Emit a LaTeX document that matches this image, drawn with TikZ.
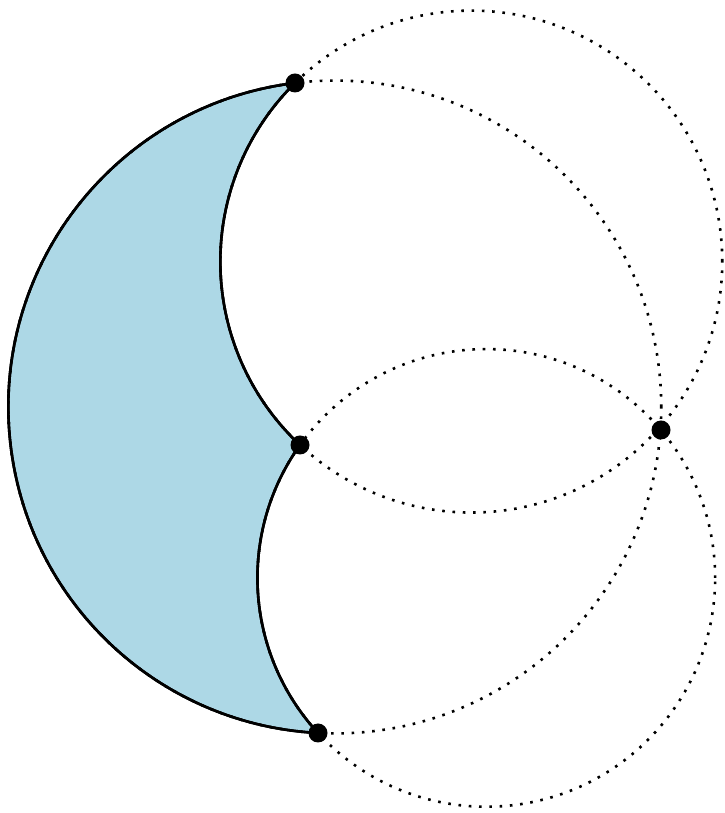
\documentclass[tikz,border=0pt]{standalone}
\usetikzlibrary{calc}
\definecolor{shade}{HTML}{ADD8E6}
\tikzset{
  dotline/.style={line width=2.6pt, dash pattern=on 2.6pt off 7.7pt},
  solidline/.style={line width=2.6pt, line join=round},
  ptdot/.style={circle, fill=black, inner sep=0pt, minimum size=19pt},
}
\begin{document}
\begin{tikzpicture}[x=1pt,y=1pt]
\useasboundingbox (0,0) rectangle (724,813);
% centres
\coordinate (O0) at (334.8,406);
\coordinate (O1) at (471.3,551.4);
\coordinate (O3) at (486.3,235.1);
% intersection points
\coordinate (A) at (295,730);
\coordinate (B) at (300,368);
\coordinate (C) at (318,80);
\coordinate (D) at (661,383);
% shaded region with solid boundary
\filldraw[solidline, fill=shade]
  let \p1=($(A)-(O0)$), \p2=($(C)-(O0)$),
      \n1={atan2(\y1,\x1)}, \n2={atan2(\y2,\x2)+360}, \n3={veclen(\x1,\y1)},
      \p4=($(C)-(O3)$), \p5=($(B)-(O3)$),
      \n4={atan2(\y4,\x4)+360}, \n5={atan2(\y5,\x5)}, \n6={veclen(\x4,\y4)},
      \p7=($(B)-(O1)$), \p8=($(A)-(O1)$),
      \n7={atan2(\y7,\x7)+360}, \n8={atan2(\y8,\x8)}, \n9={veclen(\x7,\y7)}
  in (A) arc[start angle=\n1, end angle=\n2, radius=\n3]
     arc[start angle=\n4, end angle=\n5, radius=\n6]
     arc[start angle=\n7, end angle=\n8, radius=\n9] -- cycle;
% dotted full circles
\draw[dotline] let \p1=($(A)-(O0)$) in (O0) circle[radius={veclen(\x1,\y1)}];
\draw[dotline] let \p1=($(A)-(O1)$) in (O1) circle[radius={veclen(\x1,\y1)}];
\draw[dotline] let \p1=($(B)-(O3)$) in (O3) circle[radius={veclen(\x1,\y1)}];
% redraw solid arcs on top
\draw[solidline]
  let \p1=($(A)-(O0)$), \p2=($(C)-(O0)$),
      \n1={atan2(\y1,\x1)}, \n2={atan2(\y2,\x2)+360}, \n3={veclen(\x1,\y1)},
      \p4=($(C)-(O3)$), \p5=($(B)-(O3)$),
      \n4={atan2(\y4,\x4)+360}, \n5={atan2(\y5,\x5)}, \n6={veclen(\x4,\y4)},
      \p7=($(B)-(O1)$), \p8=($(A)-(O1)$),
      \n7={atan2(\y7,\x7)+360}, \n8={atan2(\y8,\x8)}, \n9={veclen(\x7,\y7)}
  in (A) arc[start angle=\n1, end angle=\n2, radius=\n3]
     arc[start angle=\n4, end angle=\n5, radius=\n6]
     arc[start angle=\n7, end angle=\n8, radius=\n9] -- cycle;
% points
\node[ptdot] (pA) at (A) {};
\node[ptdot] (pB) at (B) {};
\node[ptdot] (pC) at (C) {};
\node[ptdot] (pD) at (D) {};
\end{tikzpicture}
\end{document}
